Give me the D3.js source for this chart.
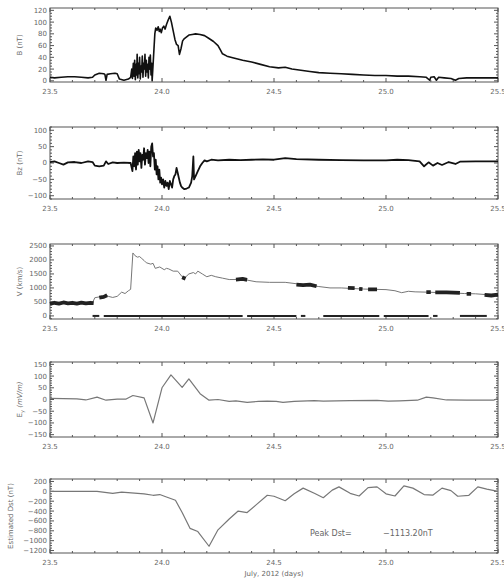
<!DOCTYPE html>
<html>
<head>
<meta charset="utf-8">
<script src="https://cdn.jsdelivr.net/npm/d3@7"></script>
<style>
  body { margin: 0; background: #fff; }
  svg { display: block; }
  text { font-family: "DejaVu Sans", sans-serif; fill: #666; }
</style>
</head>
<body>
<div id="graph"></div>
<script>
// values, [day of July 2012, value]
let bField = [[23.50,6],[23.52,5],[23.55,6],[23.58,7],[23.61,7],[23.64,6],[23.67,5],[23.69,6],[23.70,10],[23.72,13],[23.74,12],[23.745,11],[23.75,1],[23.755,11],[23.77,12],[23.79,13],[23.80,12],[23.81,3],[23.83,1],[23.85,3],[23.86,6],
  [23.865,20],[23.868,4],[23.872,30],[23.875,8],[23.878,35],[23.881,2],[23.884,28],[23.887,10],[23.889,45],[23.892,5],[23.895,30],[23.898,12],[23.90,40],[23.903,3],[23.906,25],[23.909,15],[23.912,42],[23.915,6],[23.918,30],[23.921,20],[23.924,45],[23.927,8],[23.93,35],[23.933,15],[23.936,28],[23.939,5],[23.942,40],[23.945,20],[23.948,44],[23.951,10],[23.954,30],[23.956,0],
  [23.962,40],[23.968,80],[23.972,90],[23.978,86],[23.983,92],[23.988,84],[23.992,88],[23.997,82],[24.002,90],[24.008,93],[24.014,88],[24.02,96],[24.028,104],[24.035,110],[24.042,100],[24.05,85],[24.058,70],[24.065,62],[24.072,60],[24.078,45],[24.085,55],[24.092,68],[24.10,72],[24.11,75],[24.12,78],[24.135,79],[24.15,80],[24.17,79],[24.19,77],[24.21,72],[24.23,67],[24.25,60],[24.26,53],[24.27,46],[24.29,42],[24.32,39],[24.36,35],[24.40,32],[24.44,28],[24.48,24],[24.52,22],[24.55,23],[24.58,20],[24.62,18],[24.66,16],[24.70,14],[24.75,13],[24.80,12],[24.85,11],[24.90,10],[24.95,9],[25.00,9],[25.05,8],[25.10,8],[25.15,7],[25.18,6],[25.195,1],[25.20,6],[25.215,7],[25.225,1],[25.235,6],[25.26,5],[25.29,4],[25.31,1],[25.325,4],[25.36,5],[25.40,5],[25.45,5],[25.50,5]];

let bz = [[23.50,3],[23.52,5],[23.54,0],[23.56,-5],[23.58,2],[23.61,3],[23.64,0],[23.67,5],[23.69,3],[23.70,-8],[23.72,-10],[23.74,-8],[23.75,5],[23.76,-3],[23.78,2],[23.80,0],[23.83,1],[23.86,0],
  [23.868,-25],[23.872,20],[23.876,-10],[23.88,30],[23.884,-20],[23.888,35],[23.892,-5],[23.896,40],[23.90,5],[23.904,30],[23.908,-15],[23.912,25],[23.916,10],[23.92,45],[23.924,-5],[23.928,30],[23.932,15],[23.936,40],[23.94,0],[23.944,35],[23.948,-10],[23.952,50],[23.956,60],[23.96,20],[23.964,30],[23.968,-20],[23.972,10],[23.976,-35],[23.98,-10],[23.984,-50],[23.988,-20],[23.992,-60],[23.996,-45],[24.0,-65],[24.005,-50],[24.01,-75],[24.015,-55],[24.02,-70],[24.025,-60],[24.03,-80],[24.035,-55],[24.04,-65],[24.045,-75],[24.05,-50],[24.055,-40],[24.06,-35],[24.065,-15],[24.07,-30],[24.075,-45],[24.08,-60],[24.085,-70],[24.09,-75],[24.10,-80],[24.11,-78],[24.12,-75],[24.13,-60],[24.135,-40],[24.14,20],[24.143,-50],[24.15,-40],[24.16,-25],[24.17,-10],[24.18,0],[24.19,8],[24.20,5],[24.22,10],[24.25,8],[24.30,10],[24.35,9],[24.40,10],[24.45,11],[24.50,10],[24.55,15],[24.60,12],[24.70,10],[24.80,9],[24.90,8],[25.00,8],[25.05,10],[25.10,9],[25.15,5],[25.17,-10],[25.19,2],[25.21,-8],[25.23,0],[25.25,-6],[25.28,3],[25.31,-3],[25.33,4],[25.40,5],[25.50,5]];

let speed = [[23.50,450],[23.55,460],[23.60,450],[23.65,460],[23.69,470],[23.70,650],[23.72,680],[23.74,700],[23.75,760],[23.76,700],[23.78,660],[23.80,700],[23.82,850],[23.835,800],[23.85,900],[23.86,950],[23.87,2250],[23.88,2150],[23.89,2100],[23.90,2120],[23.91,2050],[23.92,1980],[23.93,1900],[23.95,1850],[23.96,1880],[23.97,1700],[23.99,1750],[24.01,1650],[24.02,1700],[24.03,1680],[24.05,1600],[24.07,1600],[24.09,1400],[24.10,1350],[24.12,1500],[24.14,1550],[24.15,1500],[24.16,1600],[24.18,1500],[24.20,1400],[24.22,1450],[24.24,1400],[24.27,1350],[24.30,1300],[24.34,1300],[24.38,1280],[24.42,1220],[24.48,1200],[24.55,1200],[24.60,1150],[24.65,1100],[24.70,1050],[24.75,1000],[24.80,1000],[24.85,980],[24.90,960],[24.95,950],[25.00,940],[25.04,900],[25.07,830],[25.10,880],[25.13,860],[25.18,850],[25.25,830],[25.30,820],[25.35,800],[25.40,790],[25.45,760],[25.50,750]];

// stretches where the dense high-resolution speed points pile up (null = break)
let speedDense = [[23.50,430],[23.52,470],[23.54,440],[23.56,480],[23.58,450],[23.60,470],[23.62,440],[23.64,475],[23.66,445],[23.68,470],[23.695,460],[23.70,null],
  [23.72,650],[23.74,680],[23.755,740],[23.76,null],
  [24.09,1380],[24.105,1330],[24.11,null],
  [24.33,1300],[24.36,1320],[24.38,1290],[24.39,null],
  [24.60,1120],[24.63,1100],[24.66,1120],[24.69,1060],[24.70,null],
  [24.83,1000],[24.86,990],[24.87,null],[24.88,970],[24.895,960],[24.90,null],
  [24.92,950],[24.96,950],[24.97,null],
  [25.18,850],[25.20,850],[25.205,null],
  [25.22,840],[25.27,840],[25.33,820],[25.335,null],
  [25.36,790],[25.38,790],[25.385,null],
  [25.44,750],[25.47,730],[25.50,760]];

// runs of zero-valued speed samples [start day, end day]
let speedZero = [[23.69,23.72],[23.74,24.36],[24.38,24.60],[24.62,24.64],[24.72,24.97],[24.99,25.19],[25.21,25.23],[25.33,25.45]];

let ey = [[23.50,5],[23.62,3],[23.66,-2],[23.71,10],[23.75,-3],[23.80,2],[23.84,2],[23.87,17],[23.92,7],[23.96,-100],[24.00,50],[24.04,105],[24.09,52],[24.12,88],[24.17,25],[24.21,-3],[24.25,0],[24.30,-8],[24.33,-6],[24.38,-12],[24.43,-8],[24.47,-7],[24.51,-8],[24.54,-12],[24.59,-8],[24.68,-5],[24.72,-7],[24.84,-5],[24.96,-4],[25.01,-7],[25.06,-6],[25.14,-3],[25.18,10],[25.21,7],[25.27,-2],[25.36,-3],[25.48,-3],[25.50,5]];

let dst = [[23.50,0],[23.71,0],[23.78,-40],[23.82,-15],[23.92,-50],[23.96,-80],[23.99,-65],[24.02,-115],[24.06,-180],[24.09,-430],[24.125,-750],[24.16,-815],[24.21,-1113],[24.25,-780],[24.30,-560],[24.34,-400],[24.38,-430],[24.42,-275],[24.47,-80],[24.50,-100],[24.55,-190],[24.59,-50],[24.63,65],[24.68,-40],[24.72,-130],[24.76,25],[24.79,90],[24.84,-40],[24.88,-95],[24.92,75],[24.96,90],[25.00,-50],[25.04,-95],[25.08,110],[25.12,65],[25.17,-65],[25.21,-75],[25.25,65],[25.29,15],[25.32,-100],[25.37,-80],[25.41,90],[25.45,45],[25.50,0]];

let xTicks = [23.5, 24.0, 24.5, 25.0, 25.5];
let peakDst = -1113.20;

let width = 504, height = 581;
let x = d3.scaleLinear().domain([23.5, 25.5]).range([50, 498]);

let svg = d3.select("#graph").append("svg")
    .attr("width", width)
    .attr("height", height);

function panel(p) {
    let y = d3.scaleLinear().domain(p.domain).range([p.bottom, p.top]);
    let g = svg.append("g");

    // frame
    g.append("rect")
        .attr("x", 50).attr("y", p.top)
        .attr("width", 448).attr("height", p.bottom - p.top)
        .attr("fill", "none").attr("stroke", "#555").attr("stroke-width", 1);

    // x ticks, top and bottom, pointing inward
    let xMinor = d3.range(23.5, 25.51, 0.1);
    xMinor.forEach(t => {
        let major = Math.abs(t * 2 - Math.round(t * 2)) < 1e-6;
        let len = major ? 4 : 2;
        g.append("line").attr("x1", x(t)).attr("x2", x(t))
            .attr("y1", p.bottom).attr("y2", p.bottom - len).attr("stroke", "#555");
        g.append("line").attr("x1", x(t)).attr("x2", x(t))
            .attr("y1", p.top).attr("y2", p.top + len).attr("stroke", "#555");
    });
    g.selectAll(".xl").data(xTicks).join("text")
        .attr("x", d => x(d)).attr("y", p.bottom + 12)
        .attr("text-anchor", "middle").attr("font-size", 7)
        .text(d => d.toFixed(1));

    // y ticks, left and right
    let lo = Math.ceil(p.domain[0] / p.minor) * p.minor;
    d3.range(lo, p.domain[1] + 1e-9, p.minor).forEach(t => {
        let major = Math.abs(t / p.major - Math.round(t / p.major)) < 1e-6;
        let len = major ? 4 : 2;
        g.append("line").attr("x1", 50).attr("x2", 50 + len)
            .attr("y1", y(t)).attr("y2", y(t)).attr("stroke", "#555");
        g.append("line").attr("x1", 498).attr("x2", 498 - len)
            .attr("y1", y(t)).attr("y2", y(t)).attr("stroke", "#555");
    });
    g.selectAll(".yl").data(p.ticks).join("text")
        .attr("x", 47).attr("y", d => y(d))
        .attr("dy", "0.35em").attr("text-anchor", "end").attr("font-size", 7)
        .text(d => d < 0 ? "\u2212" + Math.abs(d) : d);

    // axis title
    let title = g.append("text")
        .attr("transform", `translate(${p.titleX},${(p.top + p.bottom) / 2}) rotate(-90)`)
        .attr("text-anchor", "middle").attr("font-size", 7);
    p.title(title);

    let line = d3.line()
        .defined(d => d[1] != null)
        .x(d => x(d[0])).y(d => y(d[1]));

    p.series.forEach(s => {
        g.append("path").datum(s.data)
            .attr("d", line)
            .attr("fill", "none")
            .attr("stroke", s.color)
            .attr("stroke-width", s.w)
            .attr("stroke-linejoin", "round");
    });
    return y;
}

panel({
    top: 8, bottom: 82, domain: [-2, 124], major: 20, minor: 5,
    ticks: [0, 20, 40, 60, 80, 100, 120], titleX: 22,
    title: t => t.text("B (nT)"),
    series: [{data: bField, color: "#111", w: 1.6}]
});

panel({
    top: 127, bottom: 199, domain: [-110, 110], major: 50, minor: 10,
    ticks: [-100, -50, 0, 50, 100], titleX: 22,
    title: t => t.text("Bz (nT)"),
    series: [{data: bz, color: "#111", w: 1.8}]
});

let yV = panel({
    top: 244, bottom: 319, domain: [-110, 2570], major: 500, minor: 100,
    ticks: [0, 500, 1000, 1500, 2000, 2500], titleX: 22,
    title: t => t.text("V (km/s)"),
    series: [
        {data: speed, color: "#777", w: 1},
        {data: speedDense, color: "#222", w: 3.8}
    ]
});
svg.append("g").selectAll("line").data(speedZero).join("line")
    .attr("x1", d => x(d[0])).attr("x2", d => x(d[1]))
    .attr("y1", yV(0)).attr("y2", yV(0))
    .attr("stroke", "#222").attr("stroke-width", 2);

panel({
    top: 362, bottom: 437, domain: [-160, 160], major: 50, minor: 10,
    ticks: [-150, -100, -50, 0, 50, 100, 150], titleX: 22,
    title: t => {
        t.append("tspan").text("E");
        t.append("tspan").attr("font-size", 5).attr("dy", 2).text("y");
        t.append("tspan").attr("dy", -2).attr("font-style", "italic").text(" (mV/m)");
    },
    series: [{data: ey, color: "#777", w: 1.2}]
});

panel({
    top: 479, bottom: 553, domain: [-1250, 250], major: 200, minor: 50,
    ticks: [-1200, -1000, -800, -600, -400, -200, 0, 200], titleX: 13,
    title: t => t.text("Estimated Dst (nT)"),
    series: [{data: dst, color: "#777", w: 1.2}]
});

svg.append("text").attr("x", 310).attr("y", 536).attr("font-size", 8).text("Peak Dst=");
svg.append("text").attr("x", 383).attr("y", 536).attr("font-size", 8)
    .text("\u2212" + Math.abs(peakDst).toFixed(2) + "nT");

svg.append("text").attr("x", 274).attr("y", 576)
    .attr("text-anchor", "middle").attr("font-size", 7)
    .text("July, 2012 (days)");
</script>
</body>
</html>
